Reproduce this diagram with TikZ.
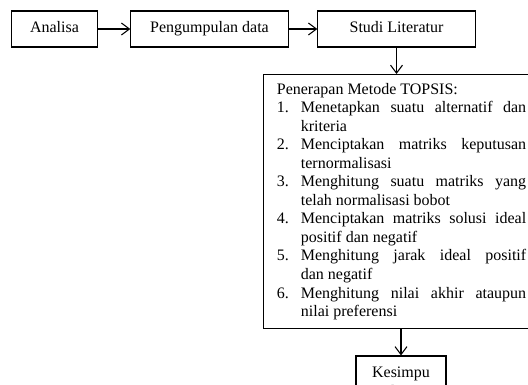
\documentclass[tikz,border=0pt]{standalone}
\usepackage{fontspec}
\setmainfont{Liberation Serif}
\usepackage{tikz}
\usetikzlibrary{shapes,arrows.meta}
\tikzset{
	block/.style    = {draw, line width=0.8pt, rectangle, inner sep=0pt,
		minimum height = 27pt, text height=8.5pt, text depth=2.5pt,
		font=\fontsize{12pt}{13.9pt}\selectfont},
	topsis/.style   = {draw, line width=0.8pt, rectangle, anchor=north west,
		inner xsep=10pt, inner ysep=0pt, text width=187pt, align=justify,
		minimum height=190.5pt, font=\fontsize{12pt}{13.9pt}\selectfont}
}
\newcommand{\langkah}[3]{\par\noindent\hangindent=18pt\hangafter=1\makebox[18pt][l]{#1}#2\linebreak #3\par}

\begin{document}
\begin{tikzpicture}[x=0.75pt, y=-0.75pt, line width=0.8pt, >={Straight Barb[length=6pt,width=9pt]}]
	\useasboundingbox (0,0) rectangle (528,385);
	\clip (0,0) rectangle (528,385);
	\draw
	node at (54.5,29) [block, minimum width=65pt] (analisa) {Analisa}
	node at (209.5,29) [block, minimum width=118pt] (data) {Pengumpulan data}
	node at (396.5,29) [block, minimum width=118pt] (studi) {Studi Literatur}
	node at (263,74) [topsis] (metode) {\hyphenpenalty=10000 Penerapan Metode TOPSIS:
		\langkah{1.}{Menetapkan suatu alternatif dan}{kriteria}
		\langkah{2.}{Menciptakan matriks keputusan}{ternormalisasi}
		\langkah{3.}{Menghitung suatu matriks yang}{telah normalisasi bobot}
		\langkah{4.}{Menciptakan matriks solusi ideal}{positif dan negatif}
		\langkah{5.}{Menghitung jarak ideal positif}{dan negatif}
		\langkah{6.}{Menghitung nilai akhir ataupun}{nilai preferensi}}
	node at (401,382) [block, minimum width=67.5pt, minimum height=39pt, text height=, text depth=, align=center] (kesimpulan) {Kesimpu\\lan};

	\draw[->](analisa)--(data);
	\draw[->](data)--(studi);
	\draw[->](studi)--(studi|-metode.north);
	\draw[->](metode.south-|kesimpulan)--(kesimpulan);
\end{tikzpicture}
\end{document}
